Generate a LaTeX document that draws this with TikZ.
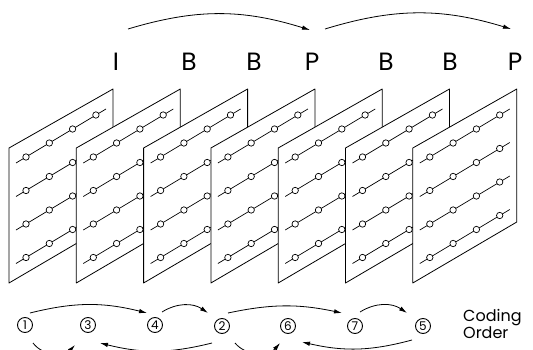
\documentclass[tikz,border=0pt]{standalone}
\usepackage{fontspec}
\setmainfont{Poppins}
\usetikzlibrary{arrows.meta}
\begin{document}
\begin{tikzpicture}[x=1pt,y=-1pt,
  plane/.style={draw,fill=white,line width=0.8pt,line join=round},
  rowline/.style={line width=0.7pt},
  dot/.style={draw,fill=white,line width=0.7pt},
  frame/.style={font=\fontsize{25}{25}\selectfont,inner sep=0pt},
  num/.style={circle,draw,line width=0.9pt,minimum size=15pt,inner sep=0pt,font=\fontsize{12}{12}\selectfont},
  arr/.style={line width=0.8pt,-{Latex[length=8pt,width=4.5pt]}},
]
\useasboundingbox (0,0) rectangle (533,350);
\clip (0,0) rectangle (533,350);
% picture planes
\foreach \i in {0,...,6}{
  \pgfmathsetmacro{\xo}{9+67.3*\i}
  \draw[plane] (\xo,148) -- (\xo+104,89) -- (\xo+104,222) -- (\xo,283) -- cycle;
  \foreach \r in {0,...,3}{
    \pgfmathsetmacro{\yo}{157+33.5*\r}
    \draw[rowline] (\xo+7,\yo+6) -- (\xo+97,\yo-48);
    \foreach \c in {0,...,3}
      \draw[dot] (\xo+17+23.3*\c,\yo-14*\c) circle[radius=3.2pt];
  }
}
% frame types
\node[frame] (f1) at (116,62) {I};
\node[frame] (f2) at (189,62) {B};
\node[frame] (f3) at (254,62) {B};
\node[frame] (f4) at (312,62) {P};
\node[frame] (f5) at (386,62) {B};
\node[frame] (f6) at (450,62) {B};
\node[frame] (f7) at (515,62) {P};
\coordinate (t1) at (128,29);
\coordinate (t2) at (310,30);
\coordinate (t3) at (325,29);
\coordinate (t4) at (511,29);
\draw[arr] (t1) to[bend left=17] (t2);
\draw[arr] (t3) to[bend left=17] (t4);
% coding order
\node[num] (c1) at (25,325) {1};
\node[num] (c3) at (88,325) {3};
\node[num] (c4) at (155,325) {4};
\node[num] (c2) at (222,326) {2};
\node[num] (c6) at (288,326) {6};
\node[num] (c7) at (355,326) {7};
\node[num] (c5) at (423,326) {5};
\draw[arr] ([shift={(5,-12)}]c1.center) to[bend left=14] ([shift={(-8,-12)}]c4.center);
\draw[arr] ([shift={(7,-13)}]c4.center) to[bend left=33] ([shift={(-14,-13)}]c2.center);
\draw[arr] ([shift={(6,-13)}]c2.center) to[bend left=12] ([shift={(-13,-13)}]c7.center);
\draw[arr] ([shift={(5,-14)}]c7.center) to[bend left=33] ([shift={(-16,-13)}]c5.center);
\draw[arr] ([shift={(8,18)}]c1.center) to[bend right=50] ([shift={(-13,20)}]c3.center);
\draw[arr] ([shift={(-10,17)}]c2.center) to[bend left=14] ([shift={(12,18)}]c3.center);
\draw[arr] ([shift={(13,17)}]c2.center) to[bend right=50] ([shift={(-8,17)}]c6.center);
\draw[arr] ([shift={(-11,14)}]c5.center) to[bend left=14] ([shift={(14,16)}]c6.center);
\node[align=left,anchor=west,inner sep=0pt,font=\fontsize{16}{15}\selectfont] (co) at (463,324) {Coding\\Order};
\end{tikzpicture}
\end{document}
